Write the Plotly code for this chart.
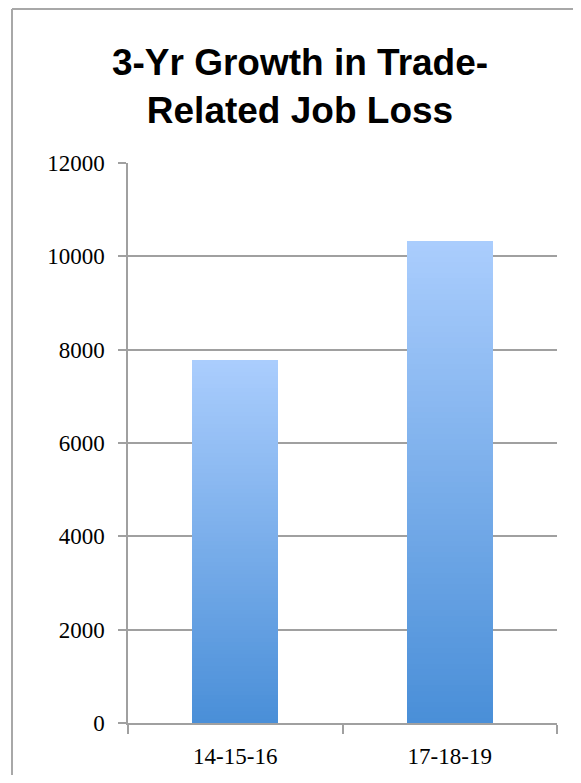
import plotly.graph_objects as go

# ---- data ----
categories = ["14-15-16", "17-18-19"]
values = [7785, 10335]
y_tickvals = [0, 2000, 4000, 6000, 8000, 10000, 12000]
y_ticktext = ["0", "2000", "4000", "6000", "8000", "10000", "12000"]
title_text = "3-Yr Growth in Trade-<br>Related Job Loss"

# ---- style ----
top_rgb = (170, 205, 253)
bottom_rgb = (74, 143, 216)
N_SEG = 90
grid_col = "#a0a0a0"

# page body has an 8px margin, so the figure sits at (8, 8) in the window
W, H = 565, 767
ML, MR, MT, MB = 120, 16, 155, 52
PW, PH = W - ML - MR, H - MT - MB
OFF = 8


def px_to_paper_x(px):
    return (px - OFF - ML) / PW


def px_to_paper_y(py):
    return (H - MB - (py - OFF)) / PH


fig = go.Figure()

# Each bar is drawn as a stack of thin slices to reproduce the vertical gradient
for k in range(N_SEG):
    t = k / (N_SEG - 1)
    r = round(bottom_rgb[0] + (top_rgb[0] - bottom_rgb[0]) * t)
    g = round(bottom_rgb[1] + (top_rgb[1] - bottom_rgb[1]) * t)
    b = round(bottom_rgb[2] + (top_rgb[2] - bottom_rgb[2]) * t)
    fig.add_trace(go.Bar(
        x=categories,
        y=[v / N_SEG for v in values],
        marker=dict(color=f"rgb({r},{g},{b})", line=dict(width=0)),
        showlegend=False,
        hoverinfo="skip",
    ))

tick_font = dict(family="Liberation Serif, Times New Roman, serif", size=23, color="black")

fig.update_layout(
    width=W, height=H,
    margin=dict(l=ML, r=MR, t=MT, b=MB, autoexpand=False),
    paper_bgcolor="white",
    plot_bgcolor="white",
    barmode="stack",
    bargap=0.6,
    title=dict(
        text=title_text,
        font=dict(family="Liberation Sans, Arial, sans-serif", size=37, color="black", weight="bold"),
        x=292 / W, xanchor="center", xref="container",
        y=1 - 66.5 / H, yanchor="top", yref="container",
    ),
    xaxis=dict(
        type="category",
        tickson="boundaries",
        ticks="outside", ticklen=9, tickwidth=1.5, tickcolor=grid_col,
        showline=True, linecolor=grid_col, linewidth=1.5,
        showgrid=False, zeroline=False,
        tickfont=tick_font,
        ticklabelstandoff=12,
        automargin=False,
    ),
    yaxis=dict(
        range=[0, 12000],
        tickvals=y_tickvals,
        ticktext=y_ticktext,
        ticks="outside", ticklen=8, tickwidth=1.5, tickcolor=grid_col,
        showline=True, linecolor=grid_col, linewidth=1.5,
        showgrid=True, gridcolor=grid_col, gridwidth=1.5,
        zeroline=False,
        tickfont=tick_font,
        ticklabelstandoff=9,
        automargin=False,
    ),
    shapes=[
        dict(type="line", xref="paper", yref="paper",
             x0=px_to_paper_x(12), x1=px_to_paper_x(600),
             y0=px_to_paper_y(9), y1=px_to_paper_y(9),
             line=dict(color="#a8a8a8", width=2), layer="below"),
        dict(type="line", xref="paper", yref="paper",
             x0=px_to_paper_x(12), x1=px_to_paper_x(12),
             y0=px_to_paper_y(9), y1=px_to_paper_y(800),
             line=dict(color="#a8a8a8", width=2), layer="below"),
    ],
)

fig.write_html("out.html")
